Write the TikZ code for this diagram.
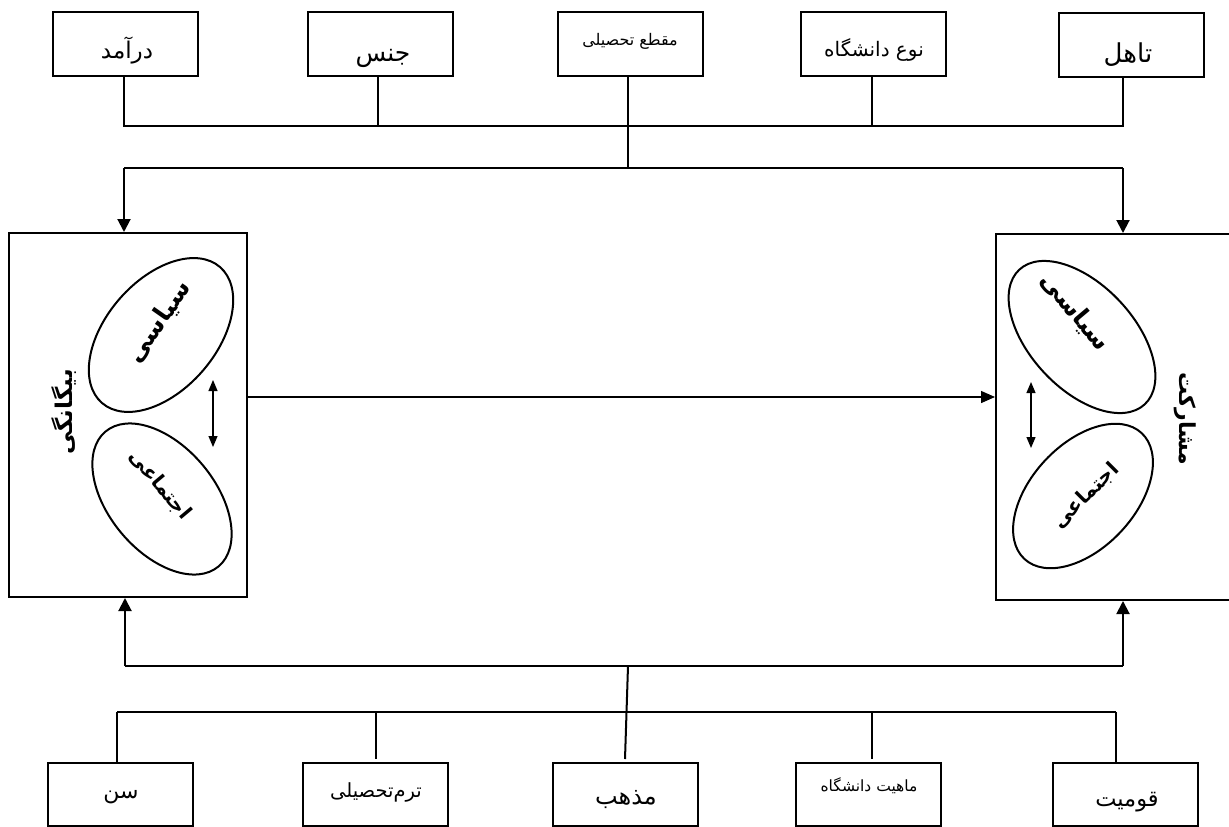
\documentclass[tikz,border=0pt]{standalone}
\usepackage{fontspec}
\usetikzlibrary{arrows.meta,shapes.geometric}
\TeXXeTstate=1
\newfontfamily\fa[Script=Arabic]{DejaVu Sans}
\begin{document}
\begin{tikzpicture}[x=1pt,y=-1pt,
  box/.style={draw, line width=2pt, minimum width=145pt, minimum height=64pt, inner sep=0pt},
  bigbox/.style={draw, line width=2pt, inner sep=0pt},
  oval/.style={draw, ellipse, line width=2pt, inner sep=0pt},
  fs/.style={inner sep=0pt, font=\fa\fontsize{#1}{#1}\selectfont},
  fsb/.style={inner sep=0pt, font=\fa\bfseries\fontsize{#1}{#1}\selectfont},
  wire/.style={line width=2pt},
  feed/.style={line width=2pt, -{Triangle[length=13pt,width=13pt]}},
  mainarrow/.style={line width=1.4pt, -{Triangle[length=14pt,width=12pt]}},
  dbl/.style={line width=1.2pt, {Triangle[length=11pt,width=9pt]}-{Triangle[length=11pt,width=9pt]}}
]
\useasboundingbox (0,0) rectangle (1229,827);
\fill[white] (0,0) rectangle (1229,827);

% top boxes
\node[box] (dar) at (125.5,44) {};
\node[box] (jen) at (380.5,44) {};
\node[box] (maq) at (630.5,44) {};
\node[box] (now) at (873.5,44) {};
\node[box] (tah) at (1131,44.5) {};
\node[fs=23] (darT) at (127,51) {\beginR درآمد\endR};
\node[fs=25] (jenT) at (383,58) {\beginR جنس\endR};
\node[fs=16] (maqT) at (630,41) {\beginR مقطع تحصیلی\endR};
\node[fs=20] (nowT) at (874,50) {\beginR نوع دانشگاه\endR};
\node[fs=26] (tahT) at (1128,55) {\beginR تاهل\endR};

% big boxes
\node[bigbox, minimum width=238pt, minimum height=364pt] (alien) at (128,415) {};
\node[bigbox, minimum width=240pt, minimum height=366pt] (part) at (1116,417) {};

% top network
\coordinate (j1) at (124,126);
\coordinate (j2) at (378,126);
\coordinate (j3) at (628,126);
\coordinate (j4) at (872,126);
\coordinate (j5) at (1123,126);
\coordinate (k1) at (124,168);
\coordinate (k3) at (628,168);
\coordinate (k5) at (1123,168);
\draw[wire] (dar.south -| j1) -- (j1) -- (j5) -- (tah.south -| j5);
\draw[wire] (jen.south -| j2) -- (j2);
\draw[wire] (now.south -| j4) -- (j4);
\draw[wire] (maq.south -| j3) -- (k3);
\draw[wire] (k1) -- (k5);
\draw[feed] (k1) -- (alien.north -| k1);
\draw[feed] (k5) -- (part.north -| k5);

% ellipses
\node[oval, minimum width=180pt, minimum height=110pt, rotate=49] (polL) at (161,335) {};
\node[oval, minimum width=176pt, minimum height=106pt, rotate=-50] (socL) at (162,499) {};
\node[oval, minimum width=184pt, minimum height=104pt, rotate=-47] (polR) at (1082,337) {};
\node[oval, minimum width=172pt, minimum height=104pt, rotate=47] (socR) at (1083,496) {};
\node[fsb=25, rotate=55] (polLT) at (159,322) {\beginR سیاسی\endR};
\node[fsb=20, rotate=-50] (socLT) at (160,485) {\beginR اجتماعی\endR};
\node[fsb=25, rotate=-50] (polRT) at (1075,312) {\beginR سیاسی\endR};
\node[fsb=20, rotate=45] (socRT) at (1086,496) {\beginR اجتماعی\endR};
\node[fsb=23, rotate=90] (alienT) at (64,412) {\beginR بیگانگی\endR};
\node[fsb=22, rotate=-90] (partT) at (1185,419) {\beginR مشارکت\endR};

% double arrows
\coordinate (dl1) at (213,380);
\coordinate (dl2) at (213,447);
\coordinate (dr1) at (1031,382);
\coordinate (dr2) at (1031,448);
\draw[dbl] (dl1) -- (dl2);
\draw[dbl] (dr1) -- (dr2);

% main arrow
\coordinate (mid) at (600,397);
\draw[mainarrow] (alien.east |- mid) -- (part.west |- mid);

% bottom boxes
\node[box, minimum height=63pt] (sen) at (120,794.5) {};
\node[box, minimum height=63pt] (term) at (375,794.5) {};
\node[box, minimum height=63pt] (maz) at (625,794.5) {};
\node[box, minimum height=63pt] (mah) at (868,794.5) {};
\node[box, minimum height=63pt] (qom) at (1125.5,794.5) {};
\node[fs=22] (senT) at (121,797) {\beginR سن\endR};
\node[fs=19.5] (termT) at (376,792) {\beginR ترم^^^^200cتحصیلی\endR};
\node[fs=24] (mazT) at (626,800) {\beginR مذهب\endR};
\node[fs=15.5] (mahT) at (869,786) {\beginR ماهیت دانشگاه\endR};
\node[fs=22.5] (qomT) at (1127,802) {\beginR قومیت\endR};

% bottom network
\coordinate (b1) at (125,666);
\coordinate (bm) at (628,666);
\coordinate (b5) at (1123,666);
\coordinate (c1) at (117,712);
\coordinate (c2) at (376,712);
\coordinate (c4) at (872,712);
\coordinate (c5) at (1116,712);
\coordinate (c2e) at (376,759);
\coordinate (c4e) at (872,759);
\coordinate (bme) at (625,759);
\draw[feed] (b1) -- (alien.south -| b1);
\draw[feed] (b5) -- (part.south -| b5);
\draw[wire] (b1) -- (b5);
\draw[wire] (bm) -- (bme);
\draw[wire] (c1) -- (c5);
\draw[wire] (c1) -- (sen.north -| c1);
\draw[wire] (c2) -- (c2e);
\draw[wire] (c4) -- (c4e);
\draw[wire] (c5) -- (qom.north -| c5);
\end{tikzpicture}
\end{document}
